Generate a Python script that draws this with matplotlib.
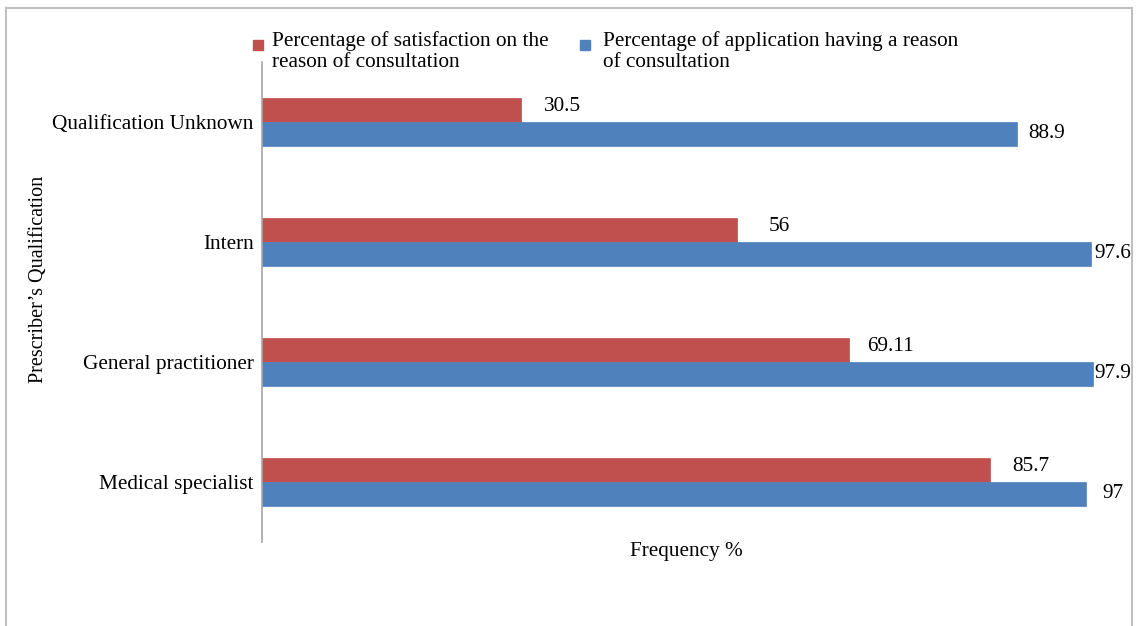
import matplotlib
matplotlib.use("Agg")
import matplotlib.pyplot as plt
from matplotlib.lines import Line2D
import numpy as np

categories = ["Medical specialist", "General practitioner", "Intern", "Qualification Unknown"]
satisfaction = [85.7, 69.11, 56, 30.5]
application = [97, 97.9, 97.6, 88.9]
sat_labels = ["85.7", "69.11", "56", "30.5"]
app_labels = ["97", "97.9", "97.6", "88.9"]
series_names = ["Percentage of satisfaction on the\nreason of consultation",
                "Percentage of application having a reason\nof consultation"]

RED = "#C0504D"
BLUE = "#4F81BD"

plt.rcParams['font.family'] = ['Liberation Serif', 'DejaVu Serif']

fig = plt.figure(figsize=(11.37, 6.26), dpi=100)
W, H = 1137, 626
# axes: left 262, right 1111, top 62, bottom 542 (pixels)
ax = fig.add_axes([262 / W, 1 - 542 / H, 849 / W, 480 / H])

y = np.arange(len(categories))
bh = 0.2
ax.barh(y + bh / 2, satisfaction, height=bh, color=RED, edgecolor=RED, linewidth=0.5)
ax.barh(y - bh / 2, application, height=bh, color=BLUE, edgecolor=BLUE, linewidth=0.5)

ax.set_xlim(0, 100)
ax.set_ylim(-0.5, len(categories) - 0.5)

fs = 15.3
for yi, v, lab in zip(y, satisfaction, sat_labels):
    ax.text(min(v + 4.9, 100.2), yi + bh / 2 + 0.03, lab, ha='center', va='center', fontsize=fs)
for yi, v, lab in zip(y, application, app_labels):
    ax.text(min(v + 3.5, 100.2), yi - bh / 2, lab, ha='center', va='center', fontsize=fs, clip_on=False)

for s in ['top', 'right', 'bottom']:
    ax.spines[s].set_visible(False)
ax.spines['left'].set_color('#A6A6A6')
ax.spines['left'].set_linewidth(1.2)
ax.set_xticks([])
ax.set_yticks(y)
ax.set_yticklabels(categories, fontsize=fs)
ax.tick_params(axis='y', length=0, pad=6)

ax.set_xlabel("Frequency %", fontsize=fs, labelpad=0)
ax.set_ylabel("Prescriber\u2019s Qualification", fontsize=14.5)
ax.yaxis.set_label_coords(-214 / 849, (542 - 279) / 480)

# legend drawn as figure texts with square markers at first-line height
leg_items = [(258, 272, RED, series_names[0]), (585, 603, BLUE, series_names[1])]
for mx, tx, col, name in leg_items:
    fig.add_artist(Line2D([mx / W], [1 - 45 / H], marker='s', markersize=6.5, color='none',
                          markerfacecolor=col, markeredgecolor=col, transform=fig.transFigure))
    fig.text(tx / W, 1 - 31 / H, name, ha='left', va='top', fontsize=fs, linespacing=1.15)

# outer frame (left, top, right)
fc = '#BFBFBF'
fig.add_artist(Line2D([6 / W, 6 / W], [0, 1 - 8 / H], transform=fig.transFigure, color=fc, lw=1.5))
fig.add_artist(Line2D([6 / W, 1132 / W], [1 - 8 / H, 1 - 8 / H], transform=fig.transFigure, color=fc, lw=1.5))
fig.add_artist(Line2D([1132 / W, 1132 / W], [0, 1 - 8 / H], transform=fig.transFigure, color=fc, lw=1.5))

fig.savefig("out.png", dpi=100)
